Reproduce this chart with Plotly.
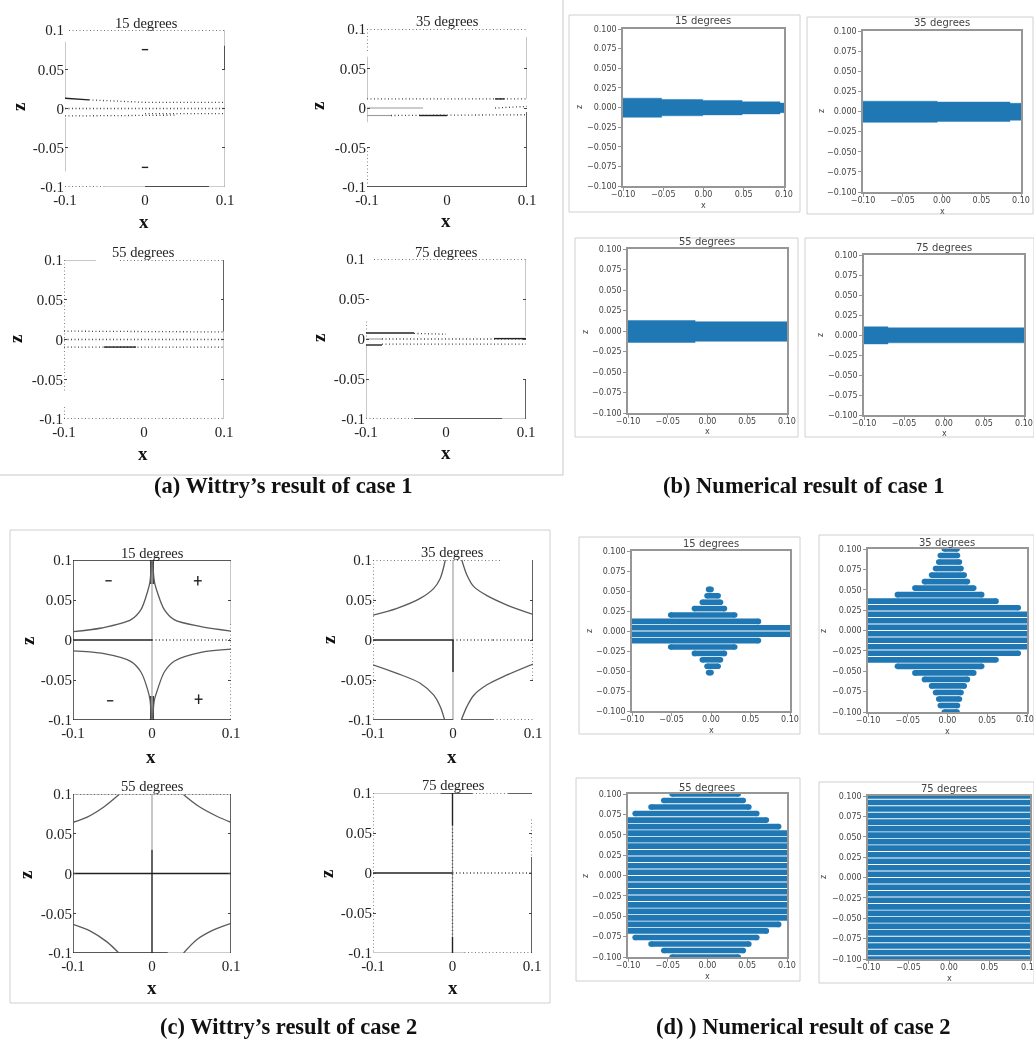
import plotly.graph_objects as go

W, H = 1034, 1044
BLUE = "#1f77b4"

# ---------- Numerical result of case 1: stepped band (x edges, upper and lower z)
B1_X = [-0.1, -0.052, -0.001, 0.048, 0.095, 0.1]
B1_UP = [0.0119, 0.0102, 0.0090, 0.0072, 0.0056]
B1_LO = [-0.0125, -0.0106, -0.0094, -0.0082, -0.0066]
B2_X = [-0.1, -0.006, 0.086, 0.1]
B2_UP = [0.0128, 0.0118, 0.0102]
B2_LO = [-0.0135, -0.0125, -0.0108]
B3_X = [-0.1, -0.0155, 0.1]
B3_UP = [0.0128, 0.0114]
B3_LO = [-0.0140, -0.0126]
B4_X = [-0.1, -0.070, 0.1]
B4_UP = [0.0102, 0.0090]
B4_LO = [-0.0112, -0.0098]

# ---------- Numerical result of case 2: rows (|z| level, left end, right end)
ROW_Z = [0.004, 0.012, 0.020, 0.028, 0.036, 0.044, 0.052, 0.060, 0.068, 0.076, 0.084, 0.092, 0.100]
D1_L = [-0.12, -0.12, -0.051, -0.021, -0.011, -0.005, -0.003]
D1_R = [0.12, 0.060, 0.030, 0.017, 0.012, 0.009, 0.000]
D2_L = [-0.12, -0.12, -0.12, -0.12, -0.12, -0.063, -0.041, -0.029, -0.020, -0.015, -0.011, -0.009, -0.004]
D2_R = [0.12, 0.12, 0.12, 0.089, 0.061, 0.043, 0.033, 0.025, 0.021, 0.017, 0.015, 0.0125, 0.012]
D3_L = [-0.12, -0.12, -0.12, -0.12, -0.12, -0.12, -0.12, -0.12, -0.12, -0.091, -0.071, -0.055, -0.0445]
D3_R = [0.12, 0.12, 0.12, 0.12, 0.12, 0.12, 0.12, 0.0895, 0.074, 0.062, 0.052, 0.045, 0.0386]
D4_L = [-0.12] * 13
D4_R = [0.12] * 13

# ---------- Wittry's results: traced curves of case 2
C1_UR_X = [0.1, 0.062, 0.028, 0.0156, 0.007, 0.003, 0.001]
C1_UR_Z = [0.0112, 0.0167, 0.0254, 0.038, 0.059, 0.073, 0.098]
C1_UL_X = [-0.1, -0.064, -0.0265, -0.014, -0.0055, -0.0025, -0.001]
C1_UL_Z = [0.0105, 0.015, 0.0254, 0.038, 0.061, 0.073, 0.098]
C1_LL_X = [-0.1, -0.064, -0.0265, -0.014, -0.0055, -0.0025, -0.001]
C1_LL_Z = [-0.0135, -0.0165, -0.027, -0.040, -0.062, -0.075, -0.098]
C1_LR_X = [0.1, 0.062, 0.028, 0.0156, 0.007, 0.003, 0.001]
C1_LR_Z = [-0.0115, -0.0155, -0.0265, -0.040, -0.062, -0.075, -0.098]

C2_UR_X = [0.1, 0.0675, 0.0425, 0.026, 0.0175, 0.011]
C2_UR_Z = [0.032, 0.0437, 0.0554, 0.0667, 0.081, 0.1]
C2_UL_X = [-0.1, -0.07, -0.041, -0.024, -0.016, -0.0096]
C2_UL_Z = [0.031, 0.0396, 0.052, 0.0646, 0.077, 0.1]
C2_LL_X = [-0.1, -0.07, -0.041, -0.024, -0.016, -0.0104]
C2_LL_Z = [-0.031, -0.0417, -0.054, -0.069, -0.083, -0.1]
C2_LR_X = [0.1, 0.0675, 0.0425, 0.026, 0.0175, 0.0104]
C2_LR_Z = [-0.03, -0.0437, -0.056, -0.069, -0.083, -0.1]

C3_UL_X = [-0.1, -0.082, -0.061, -0.042]
C3_UL_Z = [0.0644, 0.071, 0.0837, 0.099]
C3_UR_X = [0.1, 0.082, 0.059, 0.04]
C3_UR_Z = [0.0644, 0.072, 0.0845, 0.099]
C3_LL_X = [-0.1, -0.078, -0.057, -0.042]
C3_LL_Z = [-0.064, -0.0724, -0.086, -0.1]
C3_LR_X = [0.1, 0.078, 0.057, 0.04]
C3_LR_Z = [-0.0628, -0.071, -0.083, -0.1]

# ---------- Wittry's results: boundary and interior marks as (x0, x1, z0, z1)
A1_DARK = [(-0.1, -0.07, 0.013, 0.011), (-0.004, 0.004, 0.075, 0.075), (-0.004, 0.004, -0.075, -0.075),
           (0.1, 0.1, 0.08, 0.05), (0.0, 0.08, -0.1, -0.1)]
A1_GRAY = [(-0.1, -0.1, 0.085, 0.013), (-0.1, -0.1, -0.012, -0.08), (0.1, 0.1, 0.1, -0.1), (-0.05, 0.1, -0.1, -0.1)]
A1_DOT = [(-0.095, 0.1, 0.1, 0.1), (-0.1, -0.05, -0.1, -0.1), (-0.07, 0.0, 0.011, 0.0078), (0.0, 0.1, 0.0078, 0.0078),
          (-0.1, 0.1, 0, 0), (0.0, 0.1, -0.0065, -0.0065), (-0.1, 0.04, -0.0095, -0.0085)]
A2_DARK = [(0.06, 0.072, 0.0115, 0.0115), (-0.035, 0.0, -0.0095, -0.0095), (0.1, 0.1, -0.005, -0.1), (-0.1, 0.1, -0.1, -0.1)]
A2_GRAY = [(-0.1, -0.1, 0.065, 0.012), (-0.1, -0.03, 0, 0), (-0.1, -0.1, 0.0, -0.018), (0.1, 0.1, 0.09, 0.012), (-0.1, -0.07, -0.0095, -0.0095)]
A2_DOT = [(-0.1, 0.1, 0.1, 0.1), (-0.1, -0.1, 0.1, 0.07), (-0.1, -0.1, -0.05, -0.1), (-0.1, 0.1, 0.0115, 0.0115),
          (-0.07, 0.1, -0.0095, -0.0085), (0.06, 0.1, 0.0, 0.002)]
A3_DARK = [(0.1, 0.1, 0.1, 0.01), (-0.05, -0.01, -0.0095, -0.0095)]
A3_GRAY = [(-0.1, -0.06, 0.1, 0.1), (0.1, 0.1, 0.01, -0.1)]
A3_DOT = [(-0.03, 0.1, 0.1, 0.1), (-0.1, -0.1, 0.1, -0.065), (-0.1, -0.1, -0.085, -0.1), (-0.1, 0.1, -0.1, -0.1),
          (-0.1, 0.1, 0.0105, 0.0095), (-0.1, 0.1, 0, 0), (-0.1, 0.1, -0.0095, -0.0095)]
A4_DARK = [(-0.1, -0.04, 0.0075, 0.0075), (0.06, 0.1, 0.0005, 0.0005), (-0.1, -0.08, -0.0075, -0.0075),
           (0.1, 0.1, -0.05, -0.1), (-0.04, 0.07, -0.1, -0.1)]
A4_GRAY = [(-0.1, -0.1, -0.007, -0.1), (0.1, 0.1, 0.1, 0.003), (0.07, 0.1, -0.1, -0.1), (-0.1, -0.08, 0, 0)]
A4_DOT = [(-0.09, 0.1, 0.1, 0.1), (-0.1, -0.1, 0.022, 0.0), (-0.1, -0.04, -0.1, -0.1), (-0.04, 0.0, 0.007, 0.006),
          (-0.08, 0.1, 0, 0), (-0.08, 0.1, -0.0065, -0.0065)]

C1_DARK = [(-0.1, 0.1, 0.1, 0.1), (-0.1, 0.1, -0.1, -0.1), (-0.1, -0.1, 0.1, -0.1), (-0.1, 0.0, 0, 0),
           (-0.0015, -0.0015, 0.1, 0.07), (0.0015, 0.0015, 0.1, 0.07), (-0.0015, -0.0015, -0.1, -0.07), (0.0015, 0.0015, -0.1, -0.07),
           (-0.059, -0.051, 0.074, 0.074), (-0.057, -0.049, -0.076, -0.076),
           (0.053, 0.063, 0.074, 0.074), (0.058, 0.058, 0.068, 0.08),
           (0.054, 0.064, -0.074, -0.074), (0.059, 0.059, -0.068, -0.08)]
C1_GRAY = [(0.0, 0.0, 0.07, -0.07), (0.1, 0.1, 0.1, 0.02)]
C1_DOT = [(0.0, 0.1, 0, 0), (0.1, 0.1, 0.02, -0.1)]
C2_DARK = [(-0.1, 0.0, 0, 0), (-0.1, 0.0, -0.1, -0.1), (0.01, 0.05, -0.1, -0.1), (0.1, 0.1, 0.1, 0.0), (0.0, 0.0, 0.0, -0.04)]
C2_GRAY = [(0.0, 0.0, 0.1, -0.1)]
C2_DOT = [(-0.1, 0.06, 0.1, 0.1), (-0.1, -0.1, 0.1, -0.1), (0.1, 0.1, 0.0, -0.05), (0.0, 0.05, 0, 0), (0.05, 0.1, -0.1, -0.1), (0.05, 0.1, 0, 0)]
C3_DARK = [(-0.1, 0.1, 0, 0), (0.0, 0.0, 0.03, -0.1), (-0.1, 0.02, -0.1, -0.1), (0.1, 0.1, 0.1, -0.1), (-0.1, -0.1, 0.1, -0.1)]
C3_GRAY = [(0.0, 0.0, 0.1, 0.03), (0.02, 0.1, -0.1, -0.1), (-0.1, 0.1, 0.1, 0.1)]
C3_DOT = [(-0.1, 0.1, 0.1, 0.1)]
C4_DARK = [(-0.015, 0.025, 0.1, 0.1), (0.07, 0.1, 0.1, 0.1), (-0.1, 0.0, 0, 0), (0.0, 0.0, 0.1, 0.06), (0.1, 0.1, 0.02, -0.1), (0.0, 0.0, -0.08, -0.1)]
C4_GRAY = [(-0.1, -0.015, 0.1, 0.1), (0.0, 0.0, 0.06, -0.08), (-0.1, 0.015, -0.1, -0.1)]
C4_DOT = [(0.025, 0.07, 0.1, 0.1), (-0.1, -0.1, 0.1, -0.1), (0.1, 0.1, 0.067, 0.02), (0.0, 0.1, 0, 0), (0.015, 0.1, -0.1, -0.1),
          (0.0, 0.0, 0.06, -0.08)]

TITLES = ["15 degrees", "35 degrees", "55 degrees", "75 degrees"]
W_XTICKS = [-0.1, 0, 0.1]
W_XLABELS = ["-0.1", "0", "0.1"]
W_ZTICKS = [-0.1, -0.05, 0, 0.05, 0.1]
W_ZLABELS = ["-0.1", "-0.05", "0", "0.05", "0.1"]
N_XTICKS = [-0.1, -0.05, 0, 0.05, 0.1]
N_XLABELS = ["−0.10", "−0.05", "0.00", "0.05", "0.10"]
N_ZTICKS = [-0.1, -0.075, -0.05, -0.025, 0, 0.025, 0.05, 0.075, 0.1]
N_ZLABELS = ["−0.100", "−0.075", "−0.050", "−0.025", "0.000", "0.025", "0.050", "0.075", "0.100"]
CAPTIONS = ["(a) Wittry’s result of case 1", "(b) Numerical result of case 1",
            "(c) Wittry’s result of case 2", "(d) ) Numerical result of case 2"]

# ---------- layout constants, in page pixels
# plot box: x0, x1, ytop, ybottom ; title centre ; "x" centre ; "z" centre
WIT = {
    "A1": ((65, 225, 30, 187), (146, 23), (144, 221), (19, 107)),
    "A2": ((367, 527, 29, 187), (447, 21), (446, 220), (318, 106)),
    "A3": ((64, 224, 260, 419), (143, 252), (143, 453), (16, 339)),
    "A4": ((366, 526, 259, 419), (446, 252), (446, 452), (318, 338)),
    "C1": ((73, 231, 560, 720), (152, 553), (151, 756), (27, 641)),
    "C2": ((373, 533, 560, 720), (452, 552), (452, 756), (328, 640)),
    "C3": ((73, 231, 794, 953), (152, 786), (152, 987), (25, 875)),
    "C4": ((373, 532, 793, 953), (453, 785), (453, 987), (326, 874)),
}
NUM = {
    "B1": ((623, 784, 29, 186), (703, 21), (703, 205), (580, 107)),
    "B2": ((863, 1021, 31, 192), (942, 23), (942, 211), (821, 111)),
    "B3": ((628, 787, 249, 413), (707, 242), (707, 432), (585, 332)),
    "B4": ((864, 1024, 255, 415), (944, 247), (944, 434), (821, 335)),
    "D1": ((632, 790, 551, 711), (711, 543), (711, 730), (589, 631)),
    "D2": ((868, 1027, 549, 712), (947, 542), (947, 731), (823, 631)),
    "D3": ((628, 787, 794, 957), (707, 787), (707, 976), (585, 876)),
    "D4": ((868, 1030, 796, 959), (949, 788), (949, 978), (823, 877)),
}
FRAMES = [(569, 800, 15, 212), (807, 1033, 17, 214), (575, 798, 238, 437), (805, 1034, 238, 437),
          (579, 800, 537, 734), (819, 1034, 535, 734), (576, 800, 778, 981), (819, 1034, 782, 983),
          (10, 550, 530, 1003)]

fig = go.Figure()
ann, shp = [], []
n = 0


def px(x):
    return x / W


def py(y):
    return 1 - y / H


def text(s, pos, size, family, color, bold=False, angle=0):
    ann.append(dict(x=px(pos[0]), y=py(pos[1]), xref="paper", yref="paper", text=f"<b>{s}</b>" if bold else s,
                    showarrow=False, xanchor="center", yanchor="middle", textangle=angle,
                    font=dict(size=size, family=family, color=color)))


def new_axes(box, witty):
    global n
    n += 1
    x0, x1, yt, yb = box
    kw = dict(range=[-0.1, 0.1], zeroline=False, showgrid=False, automargin=False)
    if witty:
        xa = dict(kw, showline=False, tickvals=W_XTICKS, ticktext=W_XLABELS, ticks="", ticklen=0, ticklabelstandoff=2,
                  tickfont=dict(family="Liberation Serif", size=15, color="#222"))
        ya = dict(kw, showline=False, tickvals=W_ZTICKS, ticktext=W_ZLABELS, ticks="inside", ticklen=3,
                  tickcolor="#444", tickwidth=1, mirror="ticks",
                  tickfont=dict(family="Liberation Serif", size=15, color="#222"))
    else:
        frame = dict(showline=True, linecolor="#969696", linewidth=1.5, mirror=True, ticks="outside", ticklen=3,
                     tickcolor="#969696", tickwidth=1)
        xa = dict(kw, tickvals=N_XTICKS, ticktext=N_XLABELS, ticklabelstandoff=-3,
                  tickfont=dict(family="DejaVu Sans", size=8, color="#444"), **frame)
        ya = dict(kw, tickvals=N_ZTICKS, ticktext=N_ZLABELS, tickfont=dict(family="DejaVu Sans", size=8, color="#444"), **frame)
    xa.update(domain=[px(x0), px(x1)], anchor=f"y{n}")
    ya.update(domain=[py(yb), py(yt)], anchor=f"x{n}")
    fig.layout[f"xaxis{n}"] = xa
    fig.layout[f"yaxis{n}"] = ya
    return f"x{n}", f"y{n}"


def add_band(ax, xs, up, lo):
    px_, pz = [], []
    for i in range(len(up)):
        px_ += [xs[i], xs[i + 1]]
        pz += [up[i], up[i]]
    for i in reversed(range(len(lo))):
        px_ += [xs[i + 1], xs[i]]
        pz += [lo[i], lo[i]]
    fig.add_trace(go.Scatter(x=px_, y=pz, mode="lines", fill="toself", fillcolor=BLUE,
                             line=dict(color="rgba(31,119,180,0.45)", width=1), hoverinfo="skip",
                             showlegend=False, xaxis=ax[0], yaxis=ax[1]))


def add_rows(ax, levels, left, right):
    xs, zs = [], []
    for z, l, r in zip(levels, left, right):
        for sign in (1, -1):
            xs += [l, r, None]
            zs += [sign * z, sign * z, None]
    fig.add_trace(go.Scatter(x=xs, y=zs, mode="lines+markers", line=dict(color=BLUE, width=5.6),
                             marker=dict(color=BLUE, size=5.6), hoverinfo="skip", showlegend=False,
                             xaxis=ax[0], yaxis=ax[1]))


def add_segments(ax, segs, color, width, dash):
    xs, zs = [], []
    for x0, x1, z0, z1 in segs:
        xs += [x0, x1, None]
        zs += [z0, z1, None]
    fig.add_trace(go.Scatter(x=xs, y=zs, mode="lines", line=dict(color=color, width=width, dash=dash),
                             hoverinfo="skip", showlegend=False, cliponaxis=False, xaxis=ax[0], yaxis=ax[1]))


def add_curve(ax, xs, zs, color="#5a5a5a", width=1.3):
    fig.add_trace(go.Scatter(x=xs, y=zs, mode="lines", line=dict(color=color, width=width, shape="spline", smoothing=0.9),
                             hoverinfo="skip", showlegend=False, xaxis=ax[0], yaxis=ax[1]))


def witty(key, title, dark, gray, dot, curves=()):
    box, tp, xp, zp = WIT[key]
    ax = new_axes(box, True)
    add_segments(ax, gray, "#9a9a9a", 1.1, "solid")
    add_segments(ax, dot, "#484848", 1.3, "1px,2.5px")
    add_segments(ax, dark, "#222222", 1.4, "solid")
    for c in curves:
        add_curve(ax, c[0], c[1])
    text(title, tp, 14.5, "Liberation Serif", "#222")
    text("x", xp, 19, "Liberation Serif", "#111", bold=True)
    text("z", zp, 19, "Liberation Serif", "#111", bold=True, angle=-90)


def numeric(key, title):
    box, tp, xp, zp = NUM[key]
    ax = new_axes(box, False)
    text(title, tp, 10, "DejaVu Sans", "#444")
    text("x", xp, 8, "DejaVu Sans", "#444")
    text("z", zp, 8, "DejaVu Sans", "#444", angle=-90)
    return ax


for (x0, x1, y0, y1) in FRAMES:
    shp.append(dict(type="rect", xref="paper", yref="paper", x0=px(x0), x1=px(x1), y0=py(y0), y1=py(y1),
                    line=dict(color="#d0d0d0", width=1), layer="below"))
shp.append(dict(type="line", xref="paper", yref="paper", x0=px(563), x1=px(563), y0=py(0), y1=py(475),
                line=dict(color="#c8c8c8", width=1), layer="below"))
shp.append(dict(type="line", xref="paper", yref="paper", x0=px(0), x1=px(563), y0=py(475), y1=py(475),
                line=dict(color="#c8c8c8", width=1), layer="below"))

witty("A1", TITLES[0], A1_DARK, A1_GRAY, A1_DOT)
witty("A2", TITLES[1], A2_DARK, A2_GRAY, A2_DOT)
witty("A3", TITLES[2], A3_DARK, A3_GRAY, A3_DOT)
witty("A4", TITLES[3], A4_DARK, A4_GRAY, A4_DOT)
witty("C1", TITLES[0], C1_DARK, C1_GRAY, C1_DOT,
      [(C1_UR_X, C1_UR_Z), (C1_UL_X, C1_UL_Z), (C1_LL_X, C1_LL_Z), (C1_LR_X, C1_LR_Z)])
witty("C2", TITLES[1], C2_DARK, C2_GRAY, C2_DOT,
      [(C2_UR_X, C2_UR_Z), (C2_UL_X, C2_UL_Z), (C2_LL_X, C2_LL_Z), (C2_LR_X, C2_LR_Z)])
witty("C3", TITLES[2], C3_DARK, C3_GRAY, C3_DOT,
      [(C3_UR_X, C3_UR_Z), (C3_UL_X, C3_UL_Z), (C3_LL_X, C3_LL_Z), (C3_LR_X, C3_LR_Z)])
witty("C4", TITLES[3], C4_DARK, C4_GRAY, C4_DOT)

add_band(numeric("B1", TITLES[0]), B1_X, B1_UP, B1_LO)
add_band(numeric("B2", TITLES[1]), B2_X, B2_UP, B2_LO)
add_band(numeric("B3", TITLES[2]), B3_X, B3_UP, B3_LO)
add_band(numeric("B4", TITLES[3]), B4_X, B4_UP, B4_LO)
add_rows(numeric("D1", TITLES[0]), ROW_Z, D1_L, D1_R)
add_rows(numeric("D2", TITLES[1]), ROW_Z, D2_L, D2_R)
add_rows(numeric("D3", TITLES[2]), ROW_Z, D3_L, D3_R)
add_rows(numeric("D4", TITLES[3]), ROW_Z, D4_L, D4_R)

# tick labels at the page edge, which the axis drops because they would be cut off
text(N_XLABELS[-1], (1025, 719), 8, "DejaVu Sans", "#444")
text(N_XLABELS[-1], (1030, 967), 8, "DejaVu Sans", "#444")

for cap, pos in zip(CAPTIONS, [(283, 486), (803, 486), (288, 1026), (803, 1026)]):
    text(cap, pos, 22.5, "Liberation Serif", "#111", bold=True)

fig.update_layout(width=W, height=H, margin=dict(l=0, r=0, t=0, b=0), paper_bgcolor="white", plot_bgcolor="white",
                  showlegend=False, annotations=ann, shapes=shp)
fig.write_html("out.html", post_script="document.body.style.margin='0';document.body.style.filter='blur(0.45px)';",
               config={"displayModeBar": False})
